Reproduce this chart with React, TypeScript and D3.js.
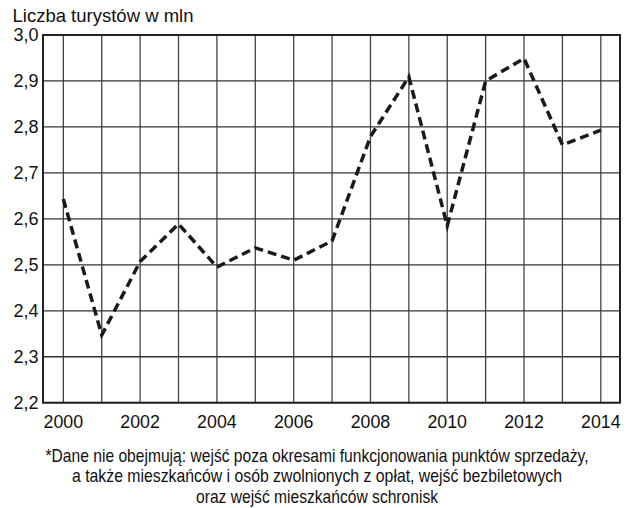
import React from "react";
import * as d3 from "d3";

const years = [2000, 2001, 2002, 2003, 2004, 2005, 2006, 2007, 2008, 2009, 2010, 2011, 2012, 2013, 2014];
const tourists = [2.643, 2.347, 2.507, 2.589, 2.495, 2.537, 2.51, 2.552, 2.779, 2.909, 2.585, 2.9, 2.949, 2.761, 2.793];
const yTicks = [2.2, 2.3, 2.4, 2.5, 2.6, 2.7, 2.8, 2.9, 3.0];
const xLabelYears = [2000, 2002, 2004, 2006, 2008, 2010, 2012, 2014];
const title = "Liczba turystów w mln";
const footnote = [
  "*Dane nie obejmują: wejść poza okresami funkcjonowania punktów sprzedaży,",
  "a także mieszkańców i osób zwolnionych z opłat, wejść bezbiletowych",
  "oraz wejść mieszkańców schronisk",
];

export default function App() {
  const W = 631, H = 508;
  const left = 43, right = 620, top = 35, bottom = 402.7;
  const x = d3.scaleLinear().domain([1999.47, 2014.5]).range([left, right]);
  const y = d3.scaleLinear().domain([2.2, 3.0]).range([bottom, top]);
  const line = d3.line<number>().x((_, i) => x(years[i])).y((d) => y(d));
  const font = "'Liberation Sans', Arial, sans-serif";
  return (
    <svg width={W} height={H} style={{ position: "absolute", left: 0, top: 0, background: "#fff" }}>
      <text x={12.5} y={21.7} fontFamily={font} fontSize={18.5} fill="#111">{title}</text>
      {years.map((yr) => (
        <line key={yr} x1={x(yr)} x2={x(yr)} y1={top} y2={bottom} stroke="#444" strokeWidth={1.3} />
      ))}
      {yTicks.map((t) => (
        <line key={t} x1={left} x2={right} y1={y(t)} y2={y(t)} stroke="#333" strokeWidth={1.3} />
      ))}
      <rect x={left} y={top} width={right - left} height={bottom - top} fill="none" stroke="#222" strokeWidth={2} />
      {yTicks.map((t) => (
        <text key={t} x={38.5} y={y(t) + 6.4} textAnchor="end" fontFamily={font} fontSize={18} fill="#111">
          {t.toFixed(1).replace(".", ",")}
        </text>
      ))}
      {xLabelYears.map((yr) => (
        <text key={yr} x={x(yr)} y={428.3} textAnchor="middle" fontFamily={font} fontSize={17.8} fill="#111">{yr}</text>
      ))}
      <path d={line(tourists) || ""} fill="none" stroke="#1a1a1a" strokeWidth={3.5} strokeDasharray="9,5" />
      {footnote.map((s, i) => (
        <text key={i} x={317} y={461.5 + i * 20.5} textAnchor="middle" fontFamily="'Liberation Sans Narrow', 'Liberation Sans', sans-serif" fontSize={17.7} fill="#111"
          textLength={[543, 490, 242][i]} lengthAdjust="spacingAndGlyphs">{s}</text>
      ))}
    </svg>
  );
}
